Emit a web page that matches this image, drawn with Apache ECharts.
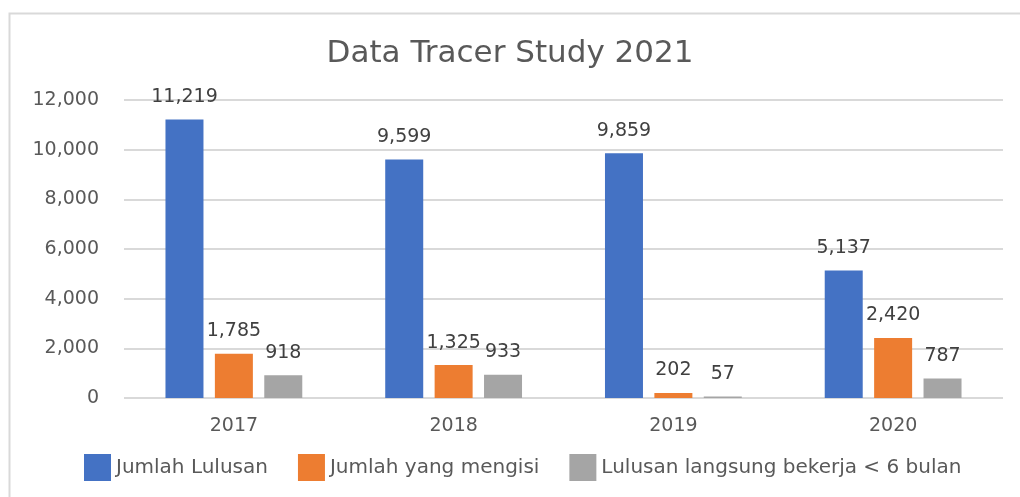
<!DOCTYPE html>
<html>
<head>
<meta charset="utf-8">
<script src="https://cdn.jsdelivr.net/npm/echarts@6/dist/echarts.min.js"></script>
<style>
  html, body { margin: 0; padding: 0; background: #fff; }
  #main { width: 1020px; height: 497px; }
</style>
</head>
<body>
<div id="main"></div>
<script>
// data
var years = ["2017", "2018", "2019", "2020"];
var jumlahLulusan = [11219, 9599, 9859, 5137];
var jumlahMengisi = [1785, 1325, 202, 2420];
var langsungBekerja = [918, 933, 57, 787];
var seriesNames = ["Jumlah Lulusan", "Jumlah yang mengisi", "Lulusan langsung bekerja < 6 bulan"];
var colors = ["#4472C4", "#ED7D31", "#A5A5A5"];

var font = "DejaVu Sans";
var textColor = "#595959";

function fmt(v) {
    return v.toLocaleString("en-US");
}

function barSeries(name, data, color) {
    return {
        name: name,
        type: "bar",
        data: data,
        barWidth: 38,
        barGap: "30%",
        itemStyle: { color: color },
        label: {
            show: true,
            position: "top",
            distance: 13,
            color: "#404040",
            fontFamily: font,
            fontSize: 19,
            formatter: function (p) { return fmt(p.value); }
        }
    };
}

var myChart = echarts.init(document.getElementById("main"));
var option = {
    backgroundColor: "#fff",
    animation: false,
    title: {
        text: "Data Tracer Study 2021",
        left: "center",
        top: 33,
        textStyle: { color: textColor, fontFamily: font, fontSize: 31, fontWeight: "normal" }
    },
    legend: {
        bottom: 11,
        left: 79,
        itemWidth: 27,
        itemHeight: 27,
        itemGap: 30,
        icon: "rect",
        textStyle: { color: textColor, fontFamily: font, fontSize: 20 },
        data: seriesNames
    },
    grid: { left: 124, right: 17, top: 100, bottom: 99 },
    xAxis: {
        type: "category",
        data: years,
        axisLine: { show: false },
        axisTick: { show: false },
        axisLabel: { color: textColor, fontFamily: font, fontSize: 19, margin: 19 }
    },
    yAxis: {
        type: "value",
        min: 0,
        max: 12000,
        interval: 2000,
        axisLine: { show: false },
        axisTick: { show: false },
        axisLabel: {
            color: textColor, fontFamily: font, fontSize: 19, margin: 25,
            formatter: function (v) { return fmt(v); }
        },
        splitLine: { lineStyle: { color: "#D9D9D9", width: 2 } }
    },
    graphic: [{
        type: "rect",
        left: 7,
        top: 11,
        shape: { width: 1100, height: 600 },
        style: { fill: null, stroke: "#D9D9D9", lineWidth: 2 },
        silent: true
    }],
    series: [
        barSeries(seriesNames[0], jumlahLulusan, colors[0]),
        barSeries(seriesNames[1], jumlahMengisi, colors[1]),
        barSeries(seriesNames[2], langsungBekerja, colors[2])
    ]
};
myChart.setOption(option);
</script>
</body>
</html>
